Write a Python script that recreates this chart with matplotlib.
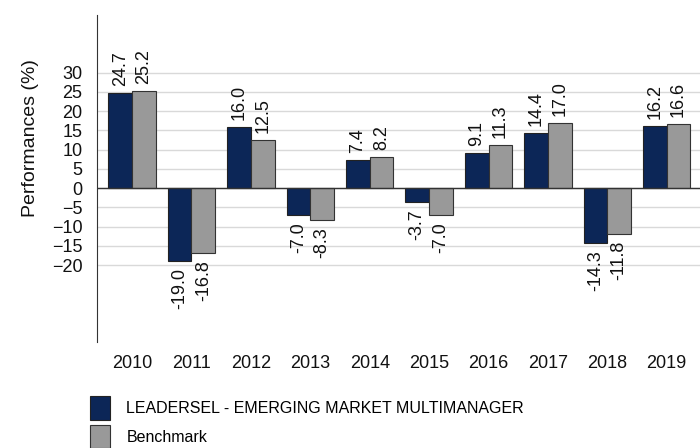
import matplotlib.pyplot as plt
import numpy as np

plt.rcParams['font.family'] = ['Liberation Sans', 'DejaVu Sans']

years = ["2010", "2011", "2012", "2013", "2014", "2015", "2016", "2017", "2018", "2019"]
fund = [24.7, -19.0, 16.0, -7.0, 7.4, -3.7, 9.1, 14.4, -14.3, 16.2]
bench = [25.2, -16.8, 12.5, -8.3, 8.2, -7.0, 11.3, 17.0, -11.8, 16.6]
fund_name = "LEADERSEL - EMERGING MARKET MULTIMANAGER"
bench_name = "Benchmark"

blue = "#0c2657"
grey = "#999999"

fig = plt.figure(figsize=(7, 4.48), dpi=100)
ax = fig.add_axes([0.1386, 0.2366, 0.8614, 0.73])

x = np.arange(len(years))
w = 0.4
b1 = ax.bar(x - w / 2, fund, w, color=blue, edgecolor="#222222", linewidth=0.8, label=fund_name, zorder=3)
b2 = ax.bar(x + w / 2, bench, w, color=grey, edgecolor="#333333", linewidth=0.8, label=bench_name, zorder=3)

# value labels, rotated, above/below each bar
for bars, vals in [(b1, fund), (b2, bench)]:
    for rect, v in zip(bars, vals):
        cx = rect.get_x() + rect.get_width() / 2
        ax.annotate(f"{v:.1f}", (cx, v), xytext=(0, 5 if v >= 0 else -5),
                    textcoords="offset points", rotation=90, ha="center",
                    va="bottom" if v >= 0 else "top", fontsize=13, color="#111111")

ax.set_ylim(-40, 45)
ax.set_xlim(-0.59, 9.56)
ax.set_yticks(range(-20, 31, 5))
ax.yaxis.grid(True, color="#d9d9d9", linewidth=1, zorder=0)
ax.axhline(0, color="#333333", linewidth=1, zorder=4)
ax.set_xticks(x)
ax.set_xticklabels(years)
ax.tick_params(axis="both", length=0, labelsize=13, colors="#111111")
ax.tick_params(axis="x", pad=9)
ax.tick_params(axis="y", pad=10.5)
for s in ["top", "right", "bottom"]:
    ax.spines[s].set_visible(False)
ax.spines["left"].set_color("#333333")

ax.set_ylabel("Performances (%)", fontsize=14, color="#111111")
ax.yaxis.set_label_coords(-0.097, 0.625)

fig.legend(handles=[b1, b2], loc="upper left", bbox_to_anchor=(0.12, 0.13),
           frameon=False, fontsize=11.5, handlelength=1.25, handleheight=1.9,
           handletextpad=1.0, labelspacing=0.3, borderaxespad=0)

fig.savefig("out.png", dpi=100)
